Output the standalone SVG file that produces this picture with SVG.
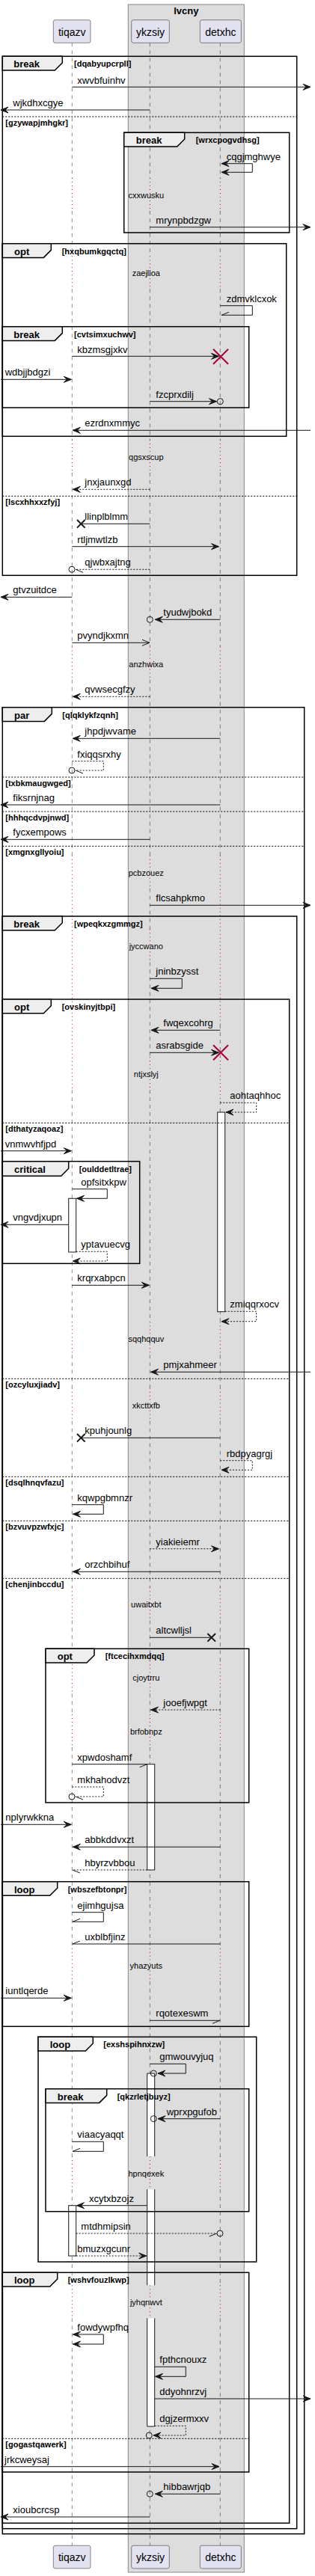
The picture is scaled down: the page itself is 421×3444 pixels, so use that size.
<svg xmlns="http://www.w3.org/2000/svg" width="421" height="3444" viewBox="0 0 421 3444">
<style>
text{font-family:"Liberation Sans",Arial,sans-serif;fill:#000}
.t{font-size:13px}
.g{font-size:11px;font-weight:bold}
.fl{font-size:13px;font-weight:bold}
.d{font-size:11px}
.pn{font-size:14px}
.ll{stroke:#181818;stroke-width:0.5;stroke-dasharray:5,5;fill:none}
.dl{stroke:#A80036;stroke-width:1;stroke-dasharray:1,4;fill:none}
.m{stroke:#181818;stroke-width:1;fill:none}
.md{stroke:#181818;stroke-width:1;fill:none;stroke-dasharray:2,2}
.fr{fill:none;stroke:#000;stroke-width:1.5}
.tab{fill:#EEEEEE;stroke:#000;stroke-width:1.5}
.sep{stroke:#000;stroke-width:1;stroke-dasharray:2,2}
.act{fill:#fff;stroke:#181818;stroke-width:1}
.pb{fill:#E2E2F0;stroke:#181818;stroke-width:0.5}
.c{fill:none;stroke:#181818;stroke-width:1}
.xr{stroke:#A80036;stroke-width:2}
.xb{stroke:#181818;stroke-width:2}
</style>
<defs>
<marker id="af" markerUnits="userSpaceOnUse" markerWidth="12" markerHeight="10" refX="10" refY="4" orient="auto-start-reverse" overflow="visible"><path d="M0,0 L10,4 L0,8 L4,4 Z" fill="#181818" stroke="#181818" stroke-width="1"/></marker>
<marker id="ao" markerUnits="userSpaceOnUse" markerWidth="12" markerHeight="10" refX="10" refY="4" orient="auto" overflow="visible"><path d="M0,0 L10,4 L0,8" fill="none" stroke="#181818" stroke-width="1"/></marker>
<marker id="hu" markerUnits="userSpaceOnUse" markerWidth="12" markerHeight="10" refX="10" refY="4" orient="auto" overflow="visible"><path d="M0,0 L10,4" fill="none" stroke="#181818" stroke-width="1"/></marker>
<marker id="hd" markerUnits="userSpaceOnUse" markerWidth="12" markerHeight="10" refX="10" refY="4" orient="auto" overflow="visible"><path d="M0,8 L10,4" fill="none" stroke="#181818" stroke-width="1"/></marker>
</defs>
<rect width="421" height="3444" fill="#fff"/>
<g id="box-lvcny">
<rect x="171.3" y="6" width="155" height="3433" fill="#DDDDDD" stroke="#888" stroke-width="1"/>
<text class="fl" x="248.8" y="18.5" text-anchor="middle">lvcny</text>
</g>
<g id="lifelines">
<path class="ll" d="M96.3,57.3V238 M96.3,282V342.3 M96.3,386.3V588 M96.3,632V864.7 M96.3,908.7V1143.7 M96.3,1457V1767.3 M96.3,1811.3V1855.7 M96.3,1899.7V2122.3 M96.3,2166.3V2220.3 M96.3,2264.3V2292 M96.3,2336V2604.7 M96.3,2648.7V2883 M96.3,2927V3055.3 M96.3,3099.3V3403.3"/>
<path class="dl" d="M96.3,238V282 M96.3,342.3V386.3 M96.3,588V632 M96.3,864.7V908.7 M96.3,1143.7V1457 M96.3,1767.3V1811.3 M96.3,1855.7V1899.7 M96.3,2122.3V2166.3 M96.3,2220.3V2264.3 M96.3,2292V2336 M96.3,2604.7V2648.7 M96.3,2883V2927 M96.3,3055.3V3099.3"/>
<path class="ll" d="M200.3,57.3V238 M200.3,282V342.3 M200.3,386.3V588 M200.3,632V864.7 M200.3,908.7V1143.7 M200.3,1187.7V1242.3 M200.3,1286.3V1413 M200.3,1457V1767.3 M200.3,1811.3V1855.7 M200.3,1899.7V2122.3 M200.3,2166.3V2220.3 M200.3,2264.3V2292 M200.3,2336V2604.7 M200.3,2648.7V2883 M200.3,2927V3055.3 M200.3,3099.3V3403.3"/>
<path class="dl" d="M200.3,238V282 M200.3,342.3V386.3 M200.3,588V632 M200.3,864.7V908.7 M200.3,1143.7V1187.7 M200.3,1242.3V1286.3 M200.3,1413V1457 M200.3,1767.3V1811.3 M200.3,1855.7V1899.7 M200.3,2122.3V2166.3 M200.3,2220.3V2264.3 M200.3,2292V2336 M200.3,2604.7V2648.7 M200.3,2883V2927 M200.3,3055.3V3099.3"/>
<path class="ll" d="M294.3,57.3V238 M294.3,282V342.3 M294.3,386.3V588 M294.3,632V864.7 M294.3,908.7V1143.7 M294.3,1370V1413 M294.3,1472V1767.3 M294.3,1811.3V1855.7 M294.3,1899.7V2122.3 M294.3,2166.3V2220.3 M294.3,2264.3V2292 M294.3,2336V2604.7 M294.3,2648.7V2883 M294.3,2927V3055.3 M294.3,3099.3V3403.3"/>
<path class="dl" d="M294.3,238V282 M294.3,342.3V386.3 M294.3,588V632 M294.3,864.7V908.7 M294.3,1143.7V1370 M294.3,1413V1472 M294.3,1767.3V1811.3 M294.3,1855.7V1899.7 M294.3,2122.3V2166.3 M294.3,2220.3V2264.3 M294.3,2292V2336 M294.3,2604.7V2648.7 M294.3,2883V2927 M294.3,3055.3V3099.3"/>
</g>
<g id="activations">
<rect class="act" x="290.7" y="1487" width="10" height="266.7"/>
<rect class="act" x="91.7" y="1602.3" width="10" height="71.7"/>
<rect class="act" x="196.7" y="2358.7" width="10" height="141.3"/>
<rect x="196.7" y="2772" width="10" height="111" fill="#fff"/>
<rect x="196.7" y="2927" width="10" height="128.3" fill="#fff"/>
<rect x="196.7" y="3099.3" width="10" height="144.7" fill="#fff"/>
<path class="m" d="M196.7,2883V2772H206.7V2883 M196.7,2927V3055.3 M206.7,2927V3055.3 M196.7,3099.3V3244H206.7V3099.3"/>
<rect class="act" x="91.7" y="2948.7" width="10" height="67.3"/>
</g>
<g id="frames">
<rect class="fr" x="3.3" y="75.3" width="393.4" height="694"/>
<polygon class="tab" points="3.3,75.3 83.3,75.3 83.3,84 73.3,94 3.3,94"/>
<text class="fl" x="18.3" y="90">break</text><text class="g" x="99" y="89">[dqabyupcrpll]</text>
<line class="sep" x1="3.3" y1="156" x2="396.7" y2="156"/><text class="g" x="7.3" y="168">[gzywapjmhgkr]</text>
<line class="sep" x1="3.3" y1="663.3" x2="396.7" y2="663.3"/><text class="g" x="7.3" y="675.3">[lscxhhxxzfyj]</text>

<rect class="fr" x="165.7" y="177.3" width="221" height="133.7"/>
<polygon class="tab" points="165.7,177.3 246.7,177.3 246.7,186 236.7,196 165.7,196"/>
<text class="fl" x="181.7" y="192">break</text><text class="g" x="261.7" y="191">[wrxcpogvdhsg]</text>

<rect class="fr" x="3.3" y="325.7" width="379.4" height="257.6"/>
<polygon class="tab" points="3.3,325.7 68.3,325.7 68.3,334.4 58.3,344.4 3.3,344.4"/>
<text class="fl" x="19" y="340.5">opt</text><text class="g" x="82.7" y="339.7">[hxqbumkgqctq]</text>

<rect class="fr" x="3.3" y="436.7" width="329.4" height="108.3"/>
<polygon class="tab" points="3.3,436.7 83.3,436.7 83.3,445.4 73.3,455.4 3.3,455.4"/>
<text class="fl" x="18.3" y="451.5">break</text><text class="g" x="99" y="450.7">[cvtsimxuchwv]</text>

<rect class="fr" x="3.3" y="945.7" width="403.4" height="2442"/>
<polygon class="tab" points="3.3,945.7 69.3,945.7 69.3,954.4 59.3,964.4 3.3,964.4"/>
<text class="fl" x="19" y="960.5">par</text><text class="g" x="83.3" y="959.7">[qlqklykfzqnh]</text>
<line class="sep" x1="3.3" y1="1039" x2="406.7" y2="1039"/><text class="g" x="7.3" y="1051">[txbkmaugwged]</text>
<line class="sep" x1="3.3" y1="1085" x2="406.7" y2="1085"/><text class="g" x="7.3" y="1097">[hhhqcdvpjnwd]</text>
<line class="sep" x1="3.3" y1="1131.3" x2="406.7" y2="1131.3"/><text class="g" x="7.3" y="1143.3">[xmgnxgllyoiu]</text>

<rect class="fr" x="3.3" y="1225" width="393.4" height="2155.7"/>
<polygon class="tab" points="3.3,1225 83.3,1225 83.3,1233.7 73.3,1243.7 3.3,1243.7"/>
<text class="fl" x="18.3" y="1239.8">break</text><text class="g" x="99" y="1239">[wpeqkxzgmmgz]</text>

<rect class="fr" x="3.3" y="1336" width="383.4" height="2037.3"/>
<polygon class="tab" points="3.3,1336 68.3,1336 68.3,1344.7 58.3,1354.7 3.3,1354.7"/>
<text class="fl" x="19" y="1350.8">opt</text><text class="g" x="82.7" y="1350">[ovskinyjtbpi]</text>
<line class="sep" x1="3.3" y1="1501.3" x2="386.7" y2="1501.3"/><text class="g" x="7.3" y="1513.3">[dthatyzaqoaz]</text>
<line class="sep" x1="3.3" y1="1843.3" x2="386.7" y2="1843.3"/><text class="g" x="7.3" y="1855.3">[ozcyluxjiadv]</text>
<line class="sep" x1="3.3" y1="1974.3" x2="386.7" y2="1974.3"/><text class="g" x="7.3" y="1986.3">[dsqlhnqvfazu]</text>
<line class="sep" x1="3.3" y1="2033.3" x2="386.7" y2="2033.3"/><text class="g" x="7.3" y="2045.3">[bzvuvpzwfxjc]</text>
<line class="sep" x1="3.3" y1="2110.3" x2="386.7" y2="2110.3"/><text class="g" x="7.3" y="2122.3">[chenjinbccdu]</text>

<rect class="fr" x="3.3" y="1552.7" width="183.4" height="136.6"/>
<polygon class="tab" points="3.3,1552.7 91.7,1552.7 91.7,1562.3 81.7,1572.3 3.3,1572.3"/>
<text class="fl" x="19" y="1567.5">critical</text><text class="g" x="105.7" y="1566.7">[oulddetltrae]</text>

<rect class="fr" x="61" y="2204.3" width="271.7" height="205.7"/>
<polygon class="tab" points="61,2204.3 126,2204.3 126,2213 116,2223 61,2223"/>
<text class="fl" x="76.7" y="2219">opt</text><text class="g" x="140.7" y="2218.3">[ftcecihxmdqq]</text>

<rect class="fr" x="3.3" y="2515.7" width="329.4" height="193.6"/>
<polygon class="tab" points="3.3,2515.7 76.7,2515.7 76.7,2524.3 66.7,2534.3 3.3,2534.3"/>
<text class="fl" x="19" y="2530.5">loop</text><text class="g" x="90.7" y="2529.7">[wbszefbtonpr]</text>

<rect class="fr" x="51" y="2723.3" width="291.7" height="300.7"/>
<polygon class="tab" points="51,2723.3 124.3,2723.3 124.3,2732 114.3,2742 51,2742"/>
<text class="fl" x="66.7" y="2738">loop</text><text class="g" x="138.3" y="2737.3">[exshspihnxzw]</text>

<rect class="fr" x="61" y="2792.7" width="271.7" height="164"/>
<polygon class="tab" points="61,2792.7 142.7,2792.7 142.7,2801.4 132.7,2811.4 61,2811.4"/>
<text class="fl" x="76.7" y="2807.5">break</text><text class="g" x="156.7" y="2806.7">[qkzrletjbuyz]</text>

<rect class="fr" x="3.3" y="3038.3" width="329.4" height="266.7"/>
<polygon class="tab" points="3.3,3038.3 76.7,3038.3 76.7,3047 66.7,3057 3.3,3057"/>
<text class="fl" x="19" y="3053">loop</text><text class="g" x="90.7" y="3052.3">[wshvfouzlkwp]</text>
<line class="sep" x1="3.3" y1="3260.3" x2="332.7" y2="3260.3"/><text class="g" x="7.3" y="3272.3">[gogastqawerk]</text>
</g>
<g id="delays">
<text class="d" x="195.3" y="265" text-anchor="middle">cxxwusku</text>
<text class="d" x="195.3" y="369.3" text-anchor="middle">zaejlioa</text>
<text class="d" x="195.3" y="615" text-anchor="middle">qgsxscup</text>
<text class="d" x="195.3" y="891.7" text-anchor="middle">anzhwixa</text>
<text class="d" x="195.3" y="1170.7" text-anchor="middle">pcbzouez</text>
<text class="d" x="195.3" y="1269.3" text-anchor="middle">jyccwano</text>
<text class="d" x="195.3" y="1440" text-anchor="middle">ntjxslyj</text>
<text class="d" x="195.3" y="1794.3" text-anchor="middle">sqqhqquv</text>
<text class="d" x="195.3" y="1882.7" text-anchor="middle">xkcttxfb</text>
<text class="d" x="195.3" y="2149.3" text-anchor="middle">uwaitxbt</text>
<text class="d" x="195.3" y="2247.3" text-anchor="middle">cjoytrru</text>
<text class="d" x="195.3" y="2319" text-anchor="middle">brfobnpz</text>
<text class="d" x="195.3" y="2631.7" text-anchor="middle">yhazyuts</text>
<text class="d" x="195.3" y="2910" text-anchor="middle">hpnqexek</text>
<text class="d" x="195.3" y="3082.3" text-anchor="middle">jyhqnwvt</text>
</g>
<g id="connectors">
<path class="m" d="M96.3,116.3H415" marker-end="url(#af)"/><text class="t" x="103.3" y="111.5">xwvbfuinhv</text>
<path class="m" d="M200.3,147H1" marker-end="url(#af)"/><text class="t" x="17.3" y="142">wjkdhxcgye</text>
<path class="m" d="M296,218.7H337.3V230.3H296" marker-start="url(#af)" marker-end="url(#af)"/><text class="t" x="302.7" y="213.5">cqgjmghwye</text>
<path class="m" d="M200.3,303.7H415" marker-end="url(#af)"/><text class="t" x="208.3" y="298.7">mrynpbdzgw</text>
<path class="m" d="M294.3,408.7H337.3V421.3H296" marker-end="url(#hd)"/><text class="t" x="302.7" y="403.5">zdmvklcxok</text>
<path class="m" d="M96.3,476.3H292.5" marker-end="url(#af)"/><text class="t" x="103.3" y="471.5">kbzmsgjxkv</text>
<path class="xr" d="M285,466.7L305,486.7M305,466.7L285,486.7"/>
<path class="m" d="M1,507.3H95.3" marker-end="url(#af)"/><text class="t" x="6.7" y="502.3">wdbjjbdgzi</text>
<path class="m" d="M200.3,536.7H289.5" marker-end="url(#af)"/><circle class="c" cx="294.3" cy="536.7" r="4"/><text class="t" x="208.3" y="531.7">fzcprxdilj</text>
<path class="m" d="M415,575.3H97.3" marker-end="url(#af)"/><text class="t" x="113.3" y="570.3">ezrdnxmmyc</text>
<path class="md" d="M200.3,654.3H97.3" marker-end="url(#af)"/><text class="t" x="113.3" y="649.3">jnxjaunxgd</text>
<path class="m" d="M200.3,700.3H108.3"/><path class="xb" d="M103,695L113.6,705.6M113.6,695L103,705.6"/><text class="t" x="113.3" y="695.3">llinplblmm</text>
<path class="m" d="M96.3,730.7H292.5" marker-end="url(#af)"/><text class="t" x="103.3" y="725.7">rtljmwtlzb</text>
<path class="md" d="M200.3,761.3H101" marker-end="url(#hu)"/><circle class="c" cx="96" cy="761.3" r="4"/><text class="t" x="113.3" y="756.3">qjwbxajtng</text>
<path class="m" d="M96.3,798.3H1" marker-end="url(#af)"/><text class="t" x="17.3" y="793.3">gtvzuitdce</text>
<path class="m" d="M294.3,828.3H207.3" marker-end="url(#af)"/><circle class="c" cx="200.3" cy="828.3" r="4"/><text class="t" x="218.3" y="823.3">tyudwjbokd</text>
<path class="m" d="M96.3,859.3H200" marker-end="url(#ao)"/><text class="t" x="103.3" y="854.3">pvyndjkxmn</text>
<path class="md" d="M200.3,931.3H97.3" marker-end="url(#af)"/><text class="t" x="113.3" y="926.3">qvwsecgfzy</text>
<path class="m" d="M294.3,987.3H97.3" marker-end="url(#af)"/><text class="t" x="113.3" y="982.3">jhpdjwvame</text>
<path class="md" d="M96.3,1017.7H138.3V1030H101" marker-end="url(#hu)"/><circle class="c" cx="96" cy="1030" r="4"/><text class="t" x="103.3" y="1012.5">fxiqqsrxhy</text>
<path class="m" d="M294.3,1076H1" marker-end="url(#af)"/><text class="t" x="17.3" y="1071">fiksrnjnag</text>
<path class="m" d="M200.3,1122.3H1" marker-end="url(#af)"/><text class="t" x="17.3" y="1117.3">fycxempows</text>
<path class="m" d="M200.3,1210.3H415" marker-end="url(#af)"/><text class="t" x="208.3" y="1205.3">flcsahpkmo</text>
<path class="m" d="M200.3,1308.3H243.3V1321.3H202" marker-end="url(#af)"/><text class="t" x="208.3" y="1303.3">jninbzysst</text>
<path class="m" d="M294.3,1377.3H202" marker-end="url(#af)"/><text class="t" x="218.3" y="1372.3">fwqexcohrg</text>
<path class="m" d="M200.3,1407.3H292.5" marker-end="url(#af)"/><path class="xr" d="M285,1397.3L305,1417.3M305,1397.3L285,1417.3"/><text class="t" x="208.3" y="1402.3">asrabsgide</text>
<path class="md" d="M294.3,1474.3H342.7V1487H302" marker-end="url(#af)"/><text class="t" x="307.3" y="1469.3">aohtaqhhoc</text>
<path class="m" d="M1,1538.7H95.3" marker-end="url(#af)"/><text class="t" x="6.7" y="1533.7">vnmwvhfjpd</text>
<path class="m" d="M96.3,1589.7H143.3V1602.3H102.5" marker-end="url(#af)"/><text class="t" x="108.3" y="1584.7">opfsitxkpw</text>
<path class="m" d="M91.7,1637.3H1" marker-end="url(#af)"/><text class="t" x="17.3" y="1632.3">vngvdjxupn</text>
<path class="md" d="M101.7,1673.3H143.3V1686H97.3" marker-end="url(#af)"/><text class="t" x="108.3" y="1668.3">yptavuecvg</text>
<path class="m" d="M96.3,1718.3H199.3" marker-end="url(#af)"/><text class="t" x="103.3" y="1713.3">krqrxabpcn</text>
<path class="md" d="M300.7,1753.3H342.7V1766.7H296" marker-end="url(#af)"/><text class="t" x="307.3" y="1748.3">zmiqqrxocv</text>
<path class="m" d="M415,1834.3H201.5" marker-end="url(#af)"/><text class="t" x="218.3" y="1829.3">pmjxahmeer</text>
<path class="m" d="M294.3,1922.3H108.3"/><path class="xb" d="M103,1917L113.6,1927.6M113.6,1917L103,1927.6"/><text class="t" x="113.3" y="1917.3">kpuhjounlg</text>
<path class="md" d="M294.3,1952.7H337.3V1965.3H296" marker-end="url(#af)"/><text class="t" x="302.7" y="1947.7">rbdpyagrgj</text>
<path class="m" d="M96.3,2011.7H138.3V2024.3H97.5" marker-end="url(#af)"/><text class="t" x="103.3" y="2006.7">kqwpgbmnzr</text>
<path class="md" d="M200.3,2070.7H292.5" marker-end="url(#af)"/><text class="t" x="208.3" y="2065.7">yiakieiemr</text>
<path class="m" d="M294.3,2101.3H97.3" marker-end="url(#af)"/><text class="t" x="113.3" y="2096.3">orzchbihuf</text>
<path class="m" d="M200.3,2189.3H282.7"/><path class="xb" d="M277.4,2184L288,2194.6M288,2184L277.4,2194.6"/><text class="t" x="208.3" y="2184.3">altcwlljsl</text>
<path class="md" d="M294.3,2286H201.5" marker-end="url(#af)"/><text class="t" x="218.3" y="2281">jooefjwpgt</text>
<path class="m" d="M96.3,2358.7H196.7" marker-end="url(#hd)"/><text class="t" x="103.3" y="2353.7">xpwdoshamf</text>
<path class="md" d="M96.3,2389H138.3V2402H101" marker-end="url(#hu)"/><circle class="c" cx="96" cy="2402" r="4"/><text class="t" x="103.3" y="2384">mkhahodvzt</text>
<path class="m" d="M1,2439.3H95.3" marker-end="url(#af)"/><text class="t" x="7.3" y="2434.3">nplyrwkkna</text>
<path class="m" d="M294.3,2469.3H97.3" marker-end="url(#af)"/><text class="t" x="113.3" y="2464.3">abbkddvxzt</text>
<path class="md" d="M196.7,2500H96.8" marker-end="url(#hu)"/><text class="t" x="113.3" y="2495">hbyrzvbbou</text>
<path class="m" d="M96.3,2556.7H138.3V2569.3H97" marker-end="url(#hd)"/><text class="t" x="103.3" y="2551.7">ejimhgujsa</text>
<path class="m" d="M294.3,2599H96.8" marker-end="url(#hd)"/><text class="t" x="113.3" y="2594">uxblbfjinz</text>
<path class="m" d="M1,2671.3H95.3" marker-end="url(#af)"/><text class="t" x="7.3" y="2666.3">iuntlqerde</text>
<path class="m" d="M200.3,2701.3H294" marker-end="url(#hd)"/><text class="t" x="208.3" y="2696.3">rqotexeswm</text>
<path class="m" d="M200.3,2759.3H248.3V2772H211" marker-end="url(#af)"/><circle class="c" cx="205.3" cy="2772" r="4"/><text class="t" x="213.3" y="2754.3">gmwouvyjuq</text>
<path class="m" d="M294.3,2832.7H211" marker-end="url(#af)"/><circle class="c" cx="205.3" cy="2832.7" r="4"/><text class="t" x="222.7" y="2827.7">wprxpgufob</text>
<path class="m" d="M96.3,2863.3H138.3V2876.3H97" marker-end="url(#hd)"/><text class="t" x="103.3" y="2858.3">viaacyaqqt</text>
<path class="m" d="M196.7,2948.7H102.5" marker-end="url(#af)"/><text class="t" x="119" y="2943.7">xcytxbzojz</text>
<path class="md" d="M101.7,2986H289.7" marker-end="url(#hd)"/><circle class="c" cx="294" cy="2986" r="4"/><text class="t" x="108.3" y="2981">mtdhmipsin</text>
<path class="md" d="M101.7,3016H195.7" marker-end="url(#af)"/><text class="t" x="103.3" y="3011">bmuzxgcunr</text>
<path class="m" d="M97.5,3121H138.3V3134H97.5" marker-start="url(#af)" marker-end="url(#af)"/><text class="t" x="103.3" y="3116">fowdywpfhq</text>
<path class="m" d="M206.7,3164.3H248.3V3177.3H207.5" marker-end="url(#af)"/><text class="t" x="213.3" y="3159.3">fpthcnouxz</text>
<path class="m" d="M206.7,3207H415" marker-end="url(#af)"/><text class="t" x="213.3" y="3202">ddyohnrzvj</text>
<path class="md" d="M206.7,3243.3H248.3V3256H205" marker-end="url(#af)"/><circle class="c" cx="199.3" cy="3256" r="4"/><text class="t" x="213.3" y="3238.3">dgjzermxxv</text>
<path class="m" d="M1,3297.7H293" marker-end="url(#af)"/><text class="t" x="6" y="3292.7">jrkcweysaj</text>
<path class="m" d="M294.3,3334.3H207.3" marker-end="url(#af)"/><circle class="c" cx="200.3" cy="3334.3" r="4"/><text class="t" x="218.3" y="3329.3">hibbawrjqb</text>
<path class="m" d="M200.3,3365H1" marker-end="url(#af)"/><text class="t" x="17.3" y="3360">xioubcrcsp</text>
</g>
<g id="tiqazv">
<rect class="pb" x="71.3" y="26.7" width="49.7" height="30.6" rx="2.5"/><text class="pn" x="96.2" y="47.5" text-anchor="middle">tiqazv</text>
<rect class="pb" x="71.3" y="3403.3" width="49.7" height="30.6" rx="2.5"/><text class="pn" x="96.2" y="3424" text-anchor="middle">tiqazv</text>
</g>
<g id="ykzsiy">
<rect class="pb" x="175.7" y="26.7" width="50.6" height="30.6" rx="2.5"/><text class="pn" x="201" y="47.5" text-anchor="middle">ykzsiy</text>
<rect class="pb" x="175.7" y="3403.3" width="50.6" height="30.6" rx="2.5"/><text class="pn" x="201" y="3424" text-anchor="middle">ykzsiy</text>
</g>
<g id="detxhc">
<rect class="pb" x="267.3" y="26.7" width="55" height="30.6" rx="2.5"/><text class="pn" x="294.8" y="47.5" text-anchor="middle">detxhc</text>
<rect class="pb" x="267.3" y="3403.3" width="55" height="30.6" rx="2.5"/><text class="pn" x="294.8" y="3424" text-anchor="middle">detxhc</text>
</g>
</svg>
